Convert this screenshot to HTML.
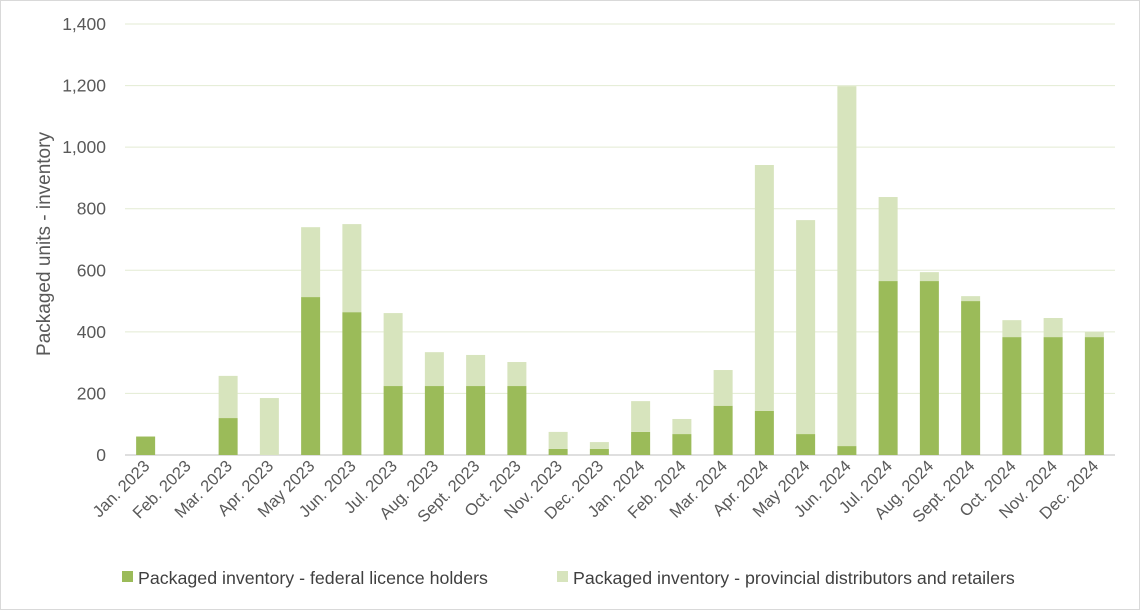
<!DOCTYPE html>
<html><head><meta charset="utf-8"><style>
body{margin:0;background:#fff;}
svg{display:block;font-family:"Liberation Sans",sans-serif;}
</style></head><body>
<svg id="chart" width="1140" height="610">
<rect x="0.5" y="0.5" width="1139" height="609" fill="#fff" stroke="#d9d9d9"/>
<g id="grid"></g><g id="bars"></g><g id="xlabels"></g><g id="ylabels"></g>
<text transform="translate(50,244) rotate(-90)" text-anchor="middle" font-size="19" fill="#595959">Packaged units - inventory</text>
<g>
<rect x="122" y="571" width="11" height="11" fill="#9bbb59"/>
<text x="138" y="584" font-size="17.8" fill="#404040">Packaged inventory - federal licence holders</text>
<rect x="557" y="571" width="11" height="11" fill="#d7e4bd"/>
<text x="573" y="584" font-size="17.8" fill="#404040">Packaged inventory - provincial distributors and retailers</text>
</g>
</svg>
<script>
const categories=["Jan. 2023","Feb. 2023","Mar. 2023","Apr. 2023","May 2023","Jun. 2023","Jul. 2023","Aug. 2023","Sept. 2023","Oct. 2023","Nov. 2023","Dec. 2023","Jan. 2024","Feb. 2024","Mar. 2024","Apr. 2024","May 2024","Jun. 2024","Jul. 2024","Aug. 2024","Sept. 2024","Oct. 2024","Nov. 2024","Dec. 2024"];
const federal=[60,0,120,0,513,464,224,224,224,224,20,20,75,68,160,143,68,29,565,565,500,383,383,383];
const provincial=[0,0,137,185,227,286,237,110,101,78,55,22,100,49,116,799,695,1169,273,29,16,55,62,17];
const yTicks=[0,200,400,600,800,1000,1200,1400];
const yTickLabels=["0","200","400","600","800","1,000","1,200","1,400"];
const NS="http://www.w3.org/2000/svg";
const L=125,R=1115,T=24,B=455,YMAX=1400;
const y=v=>B-(v/YMAX)*(B-T);
const band=(R-L)/categories.length;
const xc=i=>L+band*(i+0.5);
const bw=19;
function mk(tag,attrs,parent){const e=document.createElementNS(NS,tag);for(const k in attrs)e.setAttribute(k,attrs[k]);document.getElementById(parent).appendChild(e);return e;}
yTicks.forEach((t,i)=>{
 const g=mk("line",{x1:L,x2:R,y1:y(t),y2:y(t),stroke:i===0?"#bfbfbf":"#e3ebd3","stroke-width":1},"grid");
 
 
 const tx=mk("text",{x:106,y:y(t)+6,"text-anchor":"end","font-size":17.5,fill:"#595959"},"ylabels");
 tx.textContent=yTickLabels[i];
 
 
});
categories.forEach((c,i)=>{
 const f=federal[i],p=provincial[i];
 const r1=mk("rect",{x:xc(i)-bw/2,y:y(f),width:bw,height:B-y(f),fill:"#9bbb59"},"bars");
 
 
 const r2=mk("rect",{x:xc(i)-bw/2,y:y(f+p),width:bw,height:y(f)-y(f+p),fill:"#d7e4bd"},"bars");
 
 
 const tx=mk("text",{transform:`translate(${xc(i)+5},${B+12}) rotate(-45)`,"text-anchor":"end","font-size":16.5,fill:"#595959"},"xlabels");
 tx.textContent=c;
 
 
});
</script>
</body></html>
